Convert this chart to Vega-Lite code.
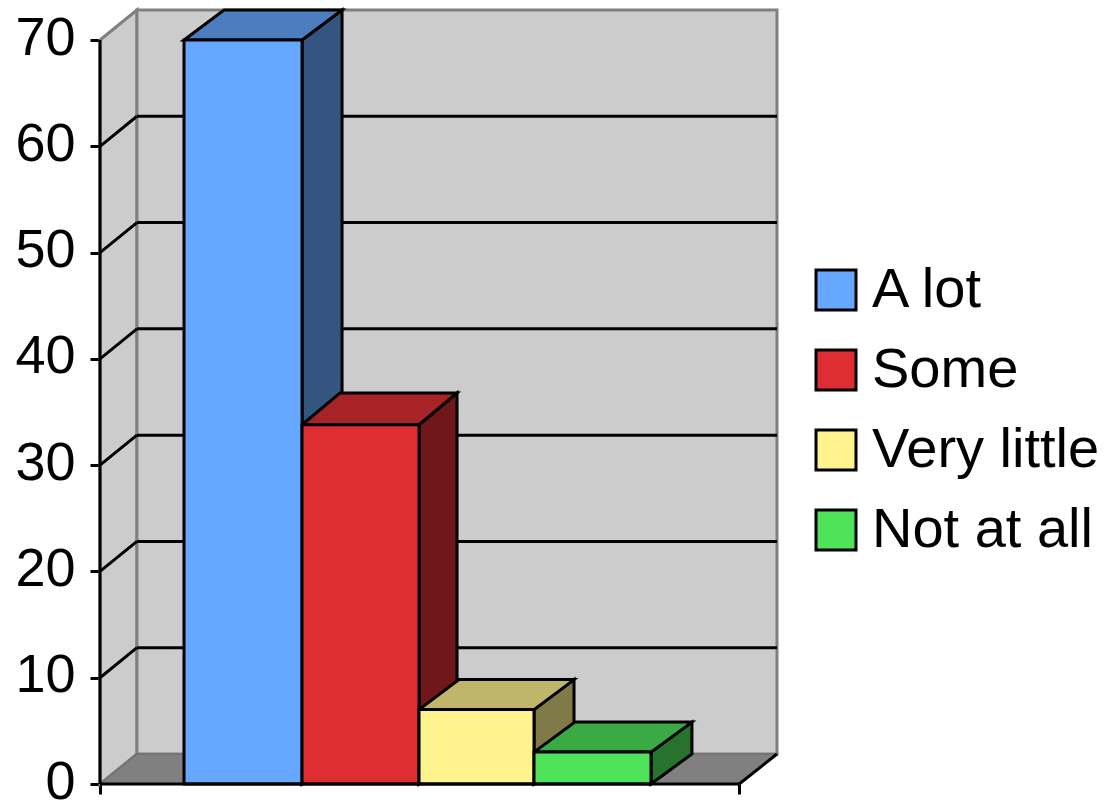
{
  "$schema": "https://vega.github.io/schema/vega-lite/v6.json",
  "autosize": "none",
  "width": 677,
  "height": 774,
  "padding": {"left": 100, "top": 10, "right": 338, "bottom": 18},
  "background": "white",
  "config": {"view": {"stroke": null}, "font": "Liberation Sans"},
  "datasets": {
    "bars": [
      {"answer": "A lot", "value": 70},
      {"answer": "Some", "value": 33.8},
      {"answer": "Very little", "value": 7},
      {"answer": "Not at all", "value": 3}
    ],
    "levels": [
      {"level": 10}, {"level": 20}, {"level": 30}, {"level": 40}, {"level": 50}, {"level": 60}
    ],
    "one": [{"n": 1}]
  },
  "layer": [
    {
      "description": "Left wall of the box",
      "data": {"values": [
        {"x": 0, "upper": 70, "lower": 0},
        {"x": 0.315, "upper": 72.825, "lower": 2.825}
      ]},
      "mark": {"type": "area", "fill": "#cccccc", "stroke": "#808080", "strokeWidth": 3},
      "encoding": {
        "x": {"field": "x", "type": "quantitative",
          "scale": {"domain": [0, 5.77], "nice": false, "zero": false},
          "axis": {"values": [0, 5.448], "title": null, "labels": false, "grid": false, "domain": false,
            "tickSize": 10, "tickWidth": 3, "tickColor": "black"}},
        "y": {"field": "upper", "type": "quantitative",
          "scale": {"domain": [0, 72.825], "nice": false, "zero": false},
          "axis": {"values": [0, 10, 20, 30, 40, 50, 60, 70], "title": null, "grid": false, "domain": false,
            "tickSize": 10, "tickWidth": 3, "tickColor": "black",
            "labelFontSize": 54, "labelColor": "black", "labelPadding": 15, "labelOffset": -2, "labelFont": "Liberation Sans", "labelFlush": false, "labelOverlap": false}},
        "y2": {"field": "lower"}
      }
    },
    {
      "description": "Back wall of the box",
      "data": {"name": "one"},
      "mark": {"type": "rect", "fill": "#cccccc", "stroke": "#808080", "strokeWidth": 3},
      "encoding": {
        "x": {"datum": 0.315, "type": "quantitative"},
        "x2": {"datum": 5.77},
        "y": {"datum": 2.825, "type": "quantitative"},
        "y2": {"datum": 72.825}
      }
    },
    {
      "description": "Floor of the box",
      "data": {"values": [
        {"x": 0, "upper": 0, "lower": 0},
        {"x": 0.315, "upper": 2.825, "lower": 0},
        {"x": 5.448, "upper": 2.825, "lower": 0},
        {"x": 5.77, "upper": 2.825, "lower": 2.825}
      ]},
      "mark": {"type": "area", "fill": "#808080", "stroke": "#707070", "strokeWidth": 1.5},
      "encoding": {
        "x": {"field": "x", "type": "quantitative"},
        "y": {"field": "upper", "type": "quantitative"},
        "y2": {"field": "lower"}
      }
    },
    {
      "description": "Gridlines along the back wall",
      "data": {"name": "levels"},
      "transform": [{"calculate": "datum.level + 2.825", "as": "raised"}],
      "mark": {"type": "rule", "color": "black", "strokeWidth": 3},
      "encoding": {
        "x": {"datum": 0.315, "type": "quantitative"},
        "x2": {"datum": 5.77},
        "y": {"field": "raised", "type": "quantitative"}
      }
    },
    {
      "description": "Gridlines slanting across the left wall",
      "data": {"name": "levels"},
      "transform": [{"calculate": "datum.level + 2.825", "as": "raised"}],
      "mark": {"type": "rule", "color": "black", "strokeWidth": 3},
      "encoding": {
        "x": {"datum": 0, "type": "quantitative"},
        "x2": {"datum": 0.315},
        "y": {"field": "level", "type": "quantitative"},
        "y2": {"field": "raised"}
      }
    },
    {
      "description": "Value axis line",
      "data": {"name": "one"},
      "mark": {"type": "rule", "color": "black", "strokeWidth": 3},
      "encoding": {
        "x": {"datum": 0, "type": "quantitative"},
        "y": {"datum": 0, "type": "quantitative"},
        "y2": {"datum": 70}
      }
    },
    {
      "description": "Side faces of the bars",
      "data": {"name": "bars"},
      "transform": [
        {"window": [{"op": "row_number", "as": "rank"}]},
        {"calculate": "[0.716, 1.722, 2.719, 3.699][datum.rank - 1]", "as": "left"},
        {"calculate": "[1.722, 2.719, 3.699, 4.696][datum.rank - 1]", "as": "right"},
        {"calculate": "[0.341, 0.324, 0.341, 0.349][datum.rank - 1]", "as": "dx"},
        {"calculate": "[2.825, 3.0, 2.825, 2.825][datum.rank - 1]", "as": "dy"},
        {"calculate": "[datum.right, datum.right + datum.dx]", "as": "xs"},
        {"calculate": "[datum.value, datum.value + datum.dy]", "as": "ups"},
        {"calculate": "[0, datum.dy]", "as": "downs"},
        {"flatten": ["xs", "ups", "downs"], "as": ["px", "upper", "lower"]}
      ],
      "mark": {"type": "area", "stroke": "black", "strokeWidth": 3},
      "encoding": {
        "x": {"field": "px", "type": "quantitative"},
        "y": {"field": "upper", "type": "quantitative"},
        "y2": {"field": "lower"},
        "fill": {"field": "answer", "type": "nominal", "legend": null,
          "scale": {"domain": ["A lot", "Some", "Very little", "Not at all"],
            "range": ["#33557f", "#6f171a", "#807a48", "#27722d"]}}
      }
    },
    {
      "description": "Top faces of the bars",
      "data": {"name": "bars"},
      "transform": [
        {"window": [{"op": "row_number", "as": "rank"}]},
        {"calculate": "[0.716, 1.722, 2.719, 3.699][datum.rank - 1]", "as": "left"},
        {"calculate": "[1.722, 2.719, 3.699, 4.696][datum.rank - 1]", "as": "right"},
        {"calculate": "[0.341, 0.324, 0.341, 0.349][datum.rank - 1]", "as": "dx"},
        {"calculate": "[2.825, 3.0, 2.825, 2.825][datum.rank - 1]", "as": "dy"},
        {"calculate": "[datum.left, datum.left + datum.dx, datum.right, datum.right + datum.dx]", "as": "xs"},
        {"calculate": "[datum.value, datum.value + datum.dy, datum.value + datum.dy, datum.value + datum.dy]", "as": "ups"},
        {"calculate": "[datum.value, datum.value, datum.value, datum.value + datum.dy]", "as": "downs"},
        {"flatten": ["xs", "ups", "downs"], "as": ["px", "upper", "lower"]}
      ],
      "mark": {"type": "area", "stroke": "black", "strokeWidth": 3},
      "encoding": {
        "x": {"field": "px", "type": "quantitative"},
        "y": {"field": "upper", "type": "quantitative"},
        "y2": {"field": "lower"},
        "fill": {"field": "answer", "type": "nominal", "legend": null,
          "scale": {"domain": ["A lot", "Some", "Very little", "Not at all"],
            "range": ["#4c7ebf", "#a72326", "#bfb66b", "#3baa44"]}}
      }
    },
    {
      "description": "Front faces of the bars, which also carry the legend",
      "data": {"name": "bars"},
      "transform": [
        {"window": [{"op": "row_number", "as": "rank"}]},
        {"calculate": "[0.716, 1.722, 2.719, 3.699][datum.rank - 1]", "as": "left"},
        {"calculate": "[1.722, 2.719, 3.699, 4.696][datum.rank - 1]", "as": "right"}
      ],
      "mark": {"type": "rect", "stroke": "black", "strokeWidth": 3},
      "encoding": {
        "x": {"field": "left", "type": "quantitative"},
        "x2": {"field": "right"},
        "y": {"field": "value", "type": "quantitative"},
        "y2": {"datum": 0},
        "fill": {"field": "answer", "type": "nominal",
          "scale": {"domain": ["A lot", "Some", "Very little", "Not at all"],
            "range": ["#66a8ff", "#df2e33", "#fff38f", "#4fe35a"]},
          "legend": {"orient": "none", "legendX": 708, "legendY": 252, "title": null,
            "symbolType": "square", "symbolSize": 1600, "symbolStrokeColor": "black", "symbolStrokeWidth": 3,
            "labelFontSize": 56, "labelColor": "black", "labelFont": "Liberation Sans", "labelLimit": 300,
            "labelOffset": 8, "rowPadding": 24, "padding": 0}}
      }
    },
    {
      "description": "Category axis line",
      "data": {"name": "one"},
      "mark": {"type": "rule", "color": "black", "strokeWidth": 3},
      "encoding": {
        "x": {"datum": 0, "type": "quantitative"},
        "x2": {"datum": 5.448},
        "y": {"datum": 0, "type": "quantitative"}
      }
    },
    {
      "description": "Front right edge of the floor",
      "data": {"name": "one"},
      "mark": {"type": "rule", "color": "black", "strokeWidth": 3},
      "encoding": {
        "x": {"datum": 5.448, "type": "quantitative"},
        "x2": {"datum": 5.77},
        "y": {"datum": 0, "type": "quantitative"},
        "y2": {"datum": 2.825}
      }
    }
  ],
  "resolve": {"scale": {"fill": "independent"}}
}
